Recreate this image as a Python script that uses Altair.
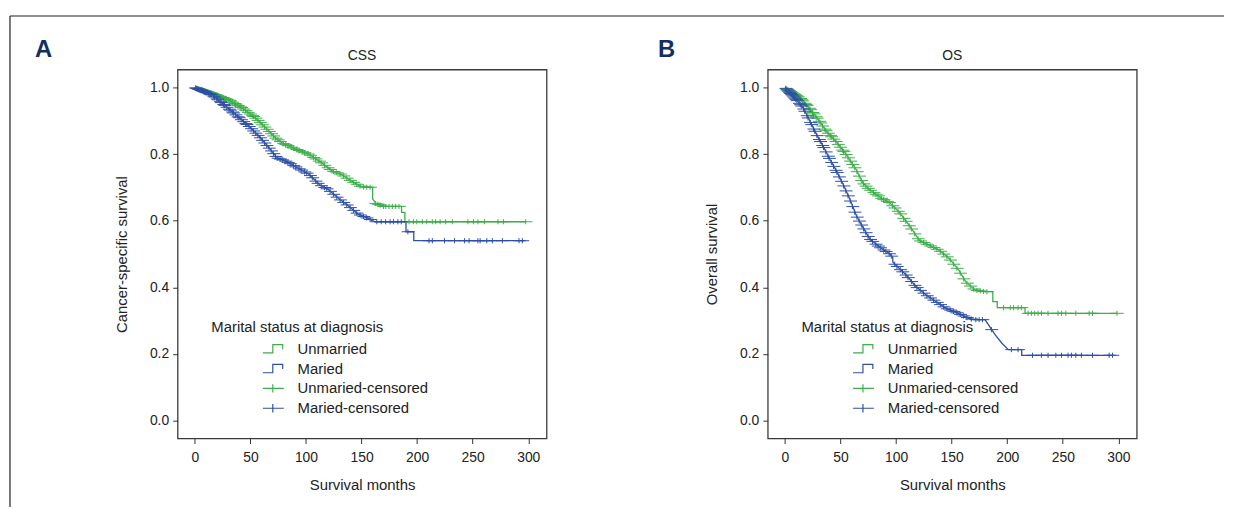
import altair as alt
import numpy as np
import pandas as pd

FONT = "Liberation Sans"
GROUPS = ["Unmarried", "Maried", "Unmaried-censored", "Maried-censored"]
GREEN = "#3dae4a"
BLUE = "#2d4fa6"
X_TICKS = [0, 50, 100, 150, 200, 250, 300]
Y_TICKS = [0.0, 0.2, 0.4, 0.6, 0.8, 1.0]

# ---- CSS curves (time in months, survival probability) ----
css_unm_t = [0, 16, 31, 43, 55, 64, 73, 79, 91, 103, 112, 124, 132, 141, 150, 160, 160, 163, 170, 186, 186, 189, 189, 298]
css_unm_s = [1.0, 0.982, 0.962, 0.938, 0.908, 0.878, 0.848, 0.833, 0.815, 0.799, 0.779, 0.749, 0.739, 0.719, 0.702, 0.700, 0.665, 0.652, 0.643, 0.643, 0.625, 0.625, 0.597, 0.597]
css_mar_t = [0, 16, 25, 37, 49, 58, 67, 74, 82, 94, 103, 112, 120, 130, 138, 147, 156, 162, 190, 190, 197, 197, 296]
css_mar_s = [1.0, 0.977, 0.952, 0.918, 0.883, 0.853, 0.818, 0.789, 0.779, 0.756, 0.739, 0.709, 0.694, 0.665, 0.645, 0.620, 0.607, 0.597, 0.597, 0.567, 0.567, 0.540, 0.540]
css_unm_cens = [1, 2, 3, 4, 5, 6, 7, 8, 9, 10, 11, 12, 14, 15, 16, 18, 19, 20, 22, 23, 25, 26, 28, 29, 31, 32, 34, 36, 37, 39,
                41, 42, 44, 46, 48, 50, 52, 53, 55, 57, 59, 61, 63, 65, 67, 69, 71, 73, 75, 77, 80, 82, 84, 87, 89, 92, 94, 97,
                99, 102, 104, 107, 109, 112, 114, 117, 120, 122, 125, 128, 131, 134, 137, 140, 143, 146, 149, 152, 155, 158,
                163, 165, 167, 170, 172, 175, 178, 181, 184, 193, 197, 200, 205, 209, 214, 217, 221, 226, 232, 246, 251, 255,
                261, 273, 278, 298]
css_mar_cens = [1, 2, 3, 4, 5, 6, 7, 8, 9, 10, 11, 13, 14, 15, 17, 18, 20, 21, 23, 24, 26, 27, 29, 31, 32, 34, 35, 37, 39, 40,
                42, 44, 46, 47, 49, 51, 53, 55, 57, 59, 61, 63, 65, 67, 69, 71, 73, 75, 77, 79, 82, 84, 86, 89, 91, 94, 96, 99,
                101, 104, 106, 109, 111, 114, 117, 119, 122, 125, 128, 131, 134, 137, 140, 143, 146, 149, 152, 155, 158, 164,
                168, 172, 176, 179, 183, 186, 192, 211, 214, 225, 234, 243, 247, 255, 257, 263, 268, 277, 292, 295]

# ---- OS curves ----
os_unm_t = [0, 14, 21, 29, 37.5, 46, 55, 64, 70, 76, 88, 94, 103, 112, 121, 130, 139, 148, 156.5, 162.5, 171, 180, 187, 187, 191, 191, 216, 216, 299]
os_unm_s = [1.0, 0.967, 0.942, 0.908, 0.868, 0.838, 0.799, 0.754, 0.714, 0.694, 0.665, 0.655, 0.625, 0.585, 0.541, 0.526, 0.511, 0.486, 0.451, 0.417, 0.392, 0.387, 0.387, 0.357, 0.357, 0.339, 0.339, 0.322, 0.322]
os_mar_t = [0, 10.7, 16.7, 22.6, 28.6, 34.5, 40.5, 46.4, 52.4, 58.3, 64.3, 70.2, 76.2, 85, 94, 97, 97, 100, 109, 118, 127, 136, 145, 154, 165.5, 170, 180, 183, 189, 195, 201, 213, 213, 295]
os_mar_s = [1.0, 0.962, 0.9375, 0.898, 0.858, 0.823, 0.784, 0.749, 0.709, 0.665, 0.615, 0.580, 0.546, 0.521, 0.501, 0.490, 0.476, 0.466, 0.437, 0.402, 0.377, 0.357, 0.337, 0.325, 0.307, 0.303, 0.303, 0.288, 0.258, 0.233, 0.213, 0.213, 0.196, 0.196]
os_unm_cens = [1, 2, 3, 4, 5, 6, 7, 8, 9, 10, 11, 12, 14, 15, 16, 18, 19, 20, 22, 23, 25, 26, 28, 29, 31, 32, 34, 36, 37, 39,
               41, 42, 44, 46, 48, 50, 52, 53, 55, 57, 59, 61, 63, 65, 67, 69, 71, 73, 75, 77, 80, 82, 84, 87, 89, 92, 94, 97,
               99, 102, 104, 107, 109, 112, 114, 117, 120, 122, 125, 128, 131, 134, 137, 140, 143, 146, 149, 152, 155, 158,
               161, 164, 167, 170, 173, 176, 179, 182, 197, 203, 206, 210, 213, 219, 222, 225, 228, 231, 237, 246, 249, 253,
               262, 274, 277, 299]
os_mar_cens = [1, 2, 3, 4, 5, 6, 7, 8, 9, 10, 11, 13, 14, 15, 17, 18, 20, 21, 23, 24, 26, 27, 29, 31, 32, 34, 35, 37, 39, 40,
               42, 44, 46, 47, 49, 51, 53, 55, 57, 59, 61, 63, 65, 67, 69, 71, 73, 75, 77, 79, 82, 84, 86, 89, 91, 94, 96, 99,
               101, 104, 106, 109, 111, 114, 117, 119, 122, 125, 128, 131, 134, 137, 140, 143, 146, 149, 152, 155, 158, 161,
               164, 168, 172, 175, 178, 186, 204, 210, 223, 231, 237, 244, 249, 255, 258, 262, 267, 277, 292, 295]

STEP = "M-1,0.4H-0.05V-0.4H0.9V0.05"
PLUS = "M-1,0H1M-0.05,-0.4V0.4"

one = pd.DataFrame({"a": [0]})


def panel(unm, mar, unm_c, mar_c, title, ytitle, letter, letter_x, frame):
    rows = []
    for name, (ts, ss) in (("Unmarried", unm), ("Maried", mar)):
        for i, (t, s) in enumerate(zip(ts, ss)):
            rows.append({"grp": name, "t": t, "s": s, "i": i})
    line_df = pd.DataFrame(rows)
    crow = []
    for name, times, (ts, ss) in (("Unmaried-censored", unm_c, unm), ("Maried-censored", mar_c, mar)):
        for t in times:
            crow.append({"grp": name, "t": t, "s": float(np.interp(t, ts, ss))})
    cens_df = pd.DataFrame(crow)

    xs = alt.Scale(domain=[-15.5, 316.5], nice=False, zero=False)
    ys = alt.Scale(domain=[-0.054, 1.054], nice=False, zero=False)
    xax = alt.Axis(values=X_TICKS, title="Survival months", titlePadding=13, labelPadding=7)
    yax = alt.Axis(values=Y_TICKS, format=".1f", title=ytitle, titlePadding=20)

    leg = alt.Legend(title=None, orient="none", legendX=85, legendY=270, labelFontSize=15, labelFont=FONT,
                     labelColor="#222", symbolSize=441, symbolStrokeWidth=1.2, labelOffset=13, rowPadding=0,
                     padding=0)

    lines = alt.Chart(line_df).mark_line(strokeWidth=1.3).encode(
        x=alt.X("t:Q", scale=xs, axis=xax),
        y=alt.Y("s:Q", scale=ys, axis=yax),
        stroke=alt.Stroke("grp:N", scale=alt.Scale(domain=GROUPS[:2], range=[GREEN, BLUE]), legend=None),
        order=alt.Order("i:Q"),
    )
    points = alt.Chart(cens_df).mark_point(filled=False, size=169, strokeWidth=1, opacity=1).encode(
        x=alt.X("t:Q", scale=xs),
        y=alt.Y("s:Q", scale=ys),
        color=alt.Color("grp:N", scale=alt.Scale(domain=GROUPS, range=[GREEN, BLUE, GREEN, BLUE]), legend=leg),
        shape=alt.Shape("grp:N", scale=alt.Scale(domain=GROUPS, range=[STEP, STEP, PLUS, PLUS]), legend=leg),
    )
    legtitle = alt.Chart(one).mark_text(text="Marital status at diagnosis", align="left", baseline="middle",
                                        fontSize=15, font=FONT, color="#222").encode(
        x=alt.value(34), y=alt.value(260))
    ttl = alt.Chart(one).mark_text(text=title, align="center", baseline="middle", fontSize=14,
                                   font=FONT, color="#222").encode(
        x=alt.value(186), y=alt.value(-14))
    let = alt.Chart(one).mark_text(text=letter, align="center", baseline="middle", fontSize=24,
                                   fontWeight="bold", font="Liberation Sans", color="#12305f").encode(
        x=alt.value(letter_x), y=alt.value(-20))
    layers = [lines, points, legtitle, ttl, let]
    if frame:
        vr = alt.Chart(one).mark_rule(color="#222", strokeWidth=1.2).encode(
            x=alt.value(-169), y=alt.value(-54), y2=alt.value(441))
        hr = alt.Chart(one).mark_rule(color="#222", strokeWidth=1.2).encode(
            x=alt.value(-169), x2=alt.value(1055), y=alt.value(-54))
        layers += [vr, hr]
    return alt.layer(*layers).properties(width=372, height=372)


pa = panel((css_unm_t, css_unm_s), (css_mar_t, css_mar_s), css_unm_cens, css_mar_cens,
           "CSS", "Cancer-specific survival", "A", -135, True)
pb = panel((os_unm_t, os_unm_s), (os_mar_t, os_mar_s), os_unm_cens, os_mar_cens,
           "OS", "Overall survival", "B", -102, False)

chart = alt.hconcat(pa, pb, spacing=223, bounds="flush").resolve_scale(
    color="independent", shape="independent", stroke="independent"
).resolve_legend(color="independent", shape="independent").properties(
    padding={"left": 0, "top": 4, "right": 0, "bottom": 0}
).configure_view(stroke="#3a3a3a", strokeWidth=1.3).configure_axis(
    labelFont=FONT, titleFont=FONT, labelFontSize=14, titleFontSize=15, titleFontWeight="normal",
    labelColor="#222", titleColor="#222", tickColor="#333", tickSize=5, domain=False, grid=False, labelPadding=4
).configure_point(filled=False)

chart.save("out.html", embed_options={"renderer": "svg", "actions": False})
